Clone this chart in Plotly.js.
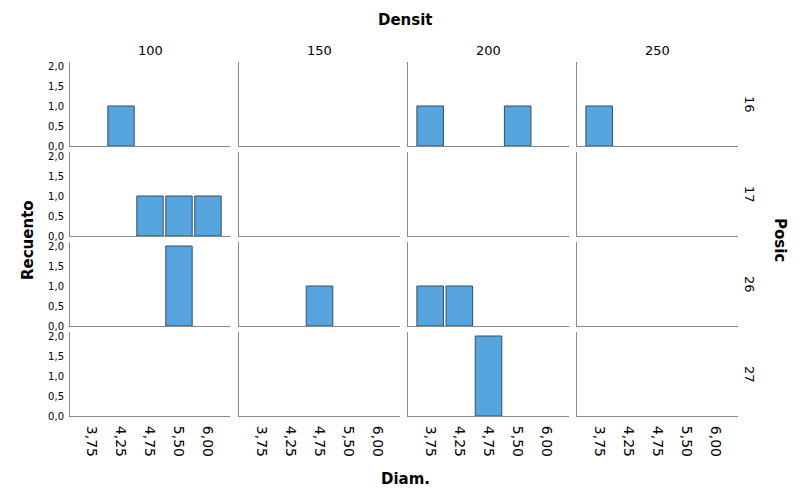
<!DOCTYPE html>
<html>
<head>
<meta charset="utf-8">
<script src="https://cdn.plot.ly/plotly-3.0.1.min.js"></script>
<style>html,body{margin:0;padding:0;background:#fff}#chart{width:803px;height:503px}</style>
</head>
<body>
<div id="chart"></div>
<script>
// Data
const diamCategories = ['3,75', '4,25', '4,75', '5,50', '6,00'];
const densitLevels = ['100', '150', '200', '250'];
const posicLevels = ['16', '17', '26', '27'];
// counts per Densit column (100,150,200,250) for each Posic row
const countsPosic16 = [[0,1,0,0,0],[0,0,0,0,0],[1,0,0,1,0],[1,0,0,0,0]];
const countsPosic17 = [[0,0,1,1,1],[0,0,0,0,0],[0,0,0,0,0],[0,0,0,0,0]];
const countsPosic26 = [[0,0,0,2,0],[0,0,1,0,0],[1,1,0,0,0],[0,0,0,0,0]];
const countsPosic27 = [[0,0,0,0,0],[0,0,0,0,0],[0,0,2,0,0],[0,0,0,0,0]];
const countsByRow = [countsPosic16, countsPosic17, countsPosic26, countsPosic27];

const W = 803, H = 503;
const mL = 70, mR = 65, mT = 62, mB = 87;
const pw = W - mL - mR, ph = H - mT - mB;
const colPx = [[70,230],[239,400],[408,569],[577,738]];
const rowPx = [[62,146],[152,236],[242,326],[332,416]];

const FONT = 'DejaVu Sans';
const traces = [];
const layout = {
  width: W, height: H,
  margin: {l: mL, r: mR, t: mT, b: mB},
  paper_bgcolor: '#fff', plot_bgcolor: '#fff',
  showlegend: false,
  separators: ',.',
  bargap: 0.09,
  font: {family: FONT, size: 11, color: '#000'},
  annotations: []
};

let k = 0;
for (let r = 0; r < 4; r++) {
  for (let c = 0; c < 4; c++) {
    k++;
    const xa = 'x' + (k === 1 ? '' : k), ya = 'y' + (k === 1 ? '' : k);
    const xname = 'xaxis' + (k === 1 ? '' : k), yname = 'yaxis' + (k === 1 ? '' : k);
    const vals = countsByRow[r][c].map(v => v === 0 ? null : v);
    traces.push({
      type: 'bar', x: diamCategories, y: vals, xaxis: xa, yaxis: ya,
      marker: {color: '#57a5df', line: {color: '#2f4d6b', width: 1}},
      hoverinfo: 'x+y'
    });
    layout[xname] = {
      domain: [(colPx[c][0] - mL) / pw, (colPx[c][1] - mL) / pw],
      anchor: ya, type: 'category', categoryorder: 'array', categoryarray: diamCategories,
      range: [-0.76, 4.76], showline: true, linecolor: '#8a8a8a', linewidth: 1,
      showgrid: false, zeroline: false, ticks: '',
      showticklabels: r === 3, tickangle: 90, ticklabelstandoff: 6,
      tickfont: {family: FONT, size: 14, color: '#000'}
    };
    layout[yname] = {
      domain: [(H - mB - rowPx[r][1]) / ph, (H - mB - rowPx[r][0]) / ph],
      anchor: xa, range: [0, 2.1], tickvals: [0, 0.5, 1, 1.5, 2], tickformat: '.1f',
      showline: true, linecolor: '#8a8a8a', linewidth: 1,
      showgrid: false, zeroline: false, ticks: '',
      showticklabels: c === 0, ticklabelstandoff: 3,
      tickfont: {family: FONT, size: 10, color: '#000'}
    };
  }
}

// column headers
densitLevels.forEach((d, c) => {
  layout.annotations.push({
    text: d, xref: 'paper', yref: 'paper', showarrow: false,
    x: ((colPx[c][0] + colPx[c][1]) / 2 - mL) / pw, y: (H - mB - 50) / ph,
    xanchor: 'center', yanchor: 'middle', font: {family: FONT, size: 13, color: '#000'}
  });
});
// row headers
posicLevels.forEach((p, r) => {
  layout.annotations.push({
    text: p, xref: 'paper', yref: 'paper', showarrow: false, textangle: 90,
    x: (750 - mL) / pw, y: (H - mB - (rowPx[r][0] + rowPx[r][1]) / 2) / ph,
    xanchor: 'center', yanchor: 'middle', font: {family: FONT, size: 13, color: '#000'}
  });
});
// titles
layout.annotations.push({text: '<b>Densit</b>', xref: 'paper', yref: 'paper', showarrow: false,
  x: (405 - mL) / pw, y: (H - mB - 20) / ph, xanchor: 'center', yanchor: 'middle',
  font: {family: FONT, size: 15, color: '#000'}});
layout.annotations.push({text: '<b>Diam.</b>', xref: 'paper', yref: 'paper', showarrow: false,
  x: (405 - mL) / pw, y: (H - mB - 479) / ph, xanchor: 'center', yanchor: 'middle',
  font: {family: FONT, size: 15, color: '#000'}});
layout.annotations.push({text: '<b>Recuento</b>', xref: 'paper', yref: 'paper', showarrow: false, textangle: -90,
  x: (28 - mL) / pw, y: (H - mB - 240) / ph, xanchor: 'center', yanchor: 'middle',
  font: {family: FONT, size: 15, color: '#000'}});
layout.annotations.push({text: '<b>Posic</b>', xref: 'paper', yref: 'paper', showarrow: false, textangle: 90,
  x: (780 - mL) / pw, y: (H - mB - 240) / ph, xanchor: 'center', yanchor: 'middle',
  font: {family: FONT, size: 15, color: '#000'}});

Plotly.newPlot('chart', traces, layout, {displayModeBar: false, staticPlot: true});
</script>
</body>
</html>
